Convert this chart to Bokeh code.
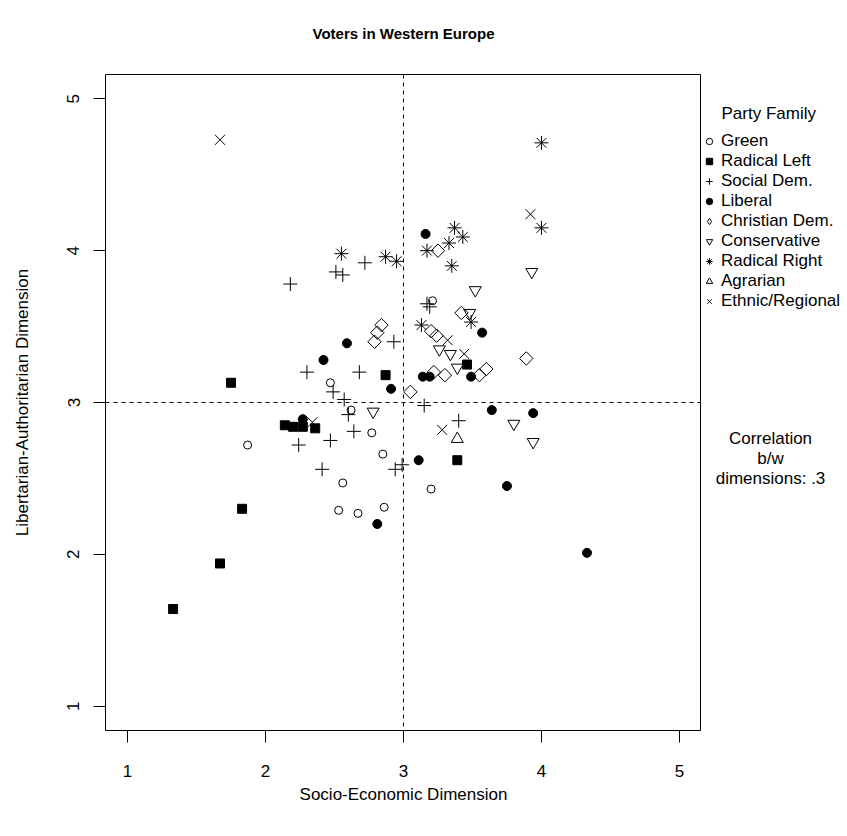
import numpy as np
from bokeh.plotting import figure
from bokeh.layouts import row, column
from bokeh.models import Span, Label, Legend, LegendItem, FixedTicker, Range1d
from bokeh.embed import file_html
from bokeh.resources import INLINE

FONT = "Liberation Sans"

# ---- data ----
x_ticks = [1, 2, 3, 4, 5]
y_ticks = [1, 2, 3, 4, 5]
x_mid = 3
y_mid = 3

green_x = [3.21, 2.47, 2.62, 2.77, 1.87, 2.85, 2.56, 2.53, 2.67, 2.86, 3.20]
green_y = [3.67, 3.13, 2.95, 2.80, 2.72, 2.66, 2.47, 2.29, 2.27, 2.31, 2.43]

radleft_x = [1.75, 2.87, 3.46, 2.14, 2.20, 2.27, 2.36, 1.83, 1.67, 1.33, 3.39]
radleft_y = [3.13, 3.18, 3.25, 2.85, 2.84, 2.84, 2.83, 2.30, 1.94, 1.64, 2.62]

socdem_x = [2.18, 2.51, 2.56, 2.72, 2.30, 2.68, 2.93, 2.49, 2.57, 3.17, 3.19, 3.15,
            2.60, 2.64, 2.24, 2.47, 2.41, 2.94, 2.99, 3.40]
socdem_y = [3.78, 3.86, 3.84, 3.92, 3.20, 3.20, 3.40, 3.07, 3.02, 3.65, 3.63, 2.98,
            2.92, 2.81, 2.72, 2.75, 2.56, 2.56, 2.59, 2.88]

liberal_x = [3.16, 2.59, 2.42, 2.91, 3.57, 3.14, 3.19, 3.49, 2.27, 2.81, 3.64, 3.94, 3.11, 3.75, 4.33]
liberal_y = [4.11, 3.39, 3.28, 3.09, 3.46, 3.17, 3.17, 3.17, 2.89, 2.20, 2.95, 2.93, 2.62, 2.45, 2.01]

chrdem_x = [3.25, 2.84, 2.81, 2.79, 3.42, 3.20, 3.24, 3.89, 3.22, 3.30, 3.55, 3.60, 3.05]
chrdem_y = [4.00, 3.51, 3.46, 3.40, 3.59, 3.47, 3.44, 3.29, 3.20, 3.18, 3.18, 3.22, 3.07]

cons_x = [3.93, 3.52, 3.48, 3.26, 3.34, 3.39, 2.78, 3.80, 3.94]
cons_y = [3.86, 3.74, 3.59, 3.35, 3.32, 3.23, 2.94, 2.86, 2.74]

radright_x = [4.00, 4.00, 3.37, 3.43, 3.33, 3.17, 3.35, 2.55, 2.87, 2.95, 3.13, 3.49]
radright_y = [4.71, 4.15, 4.15, 4.09, 4.05, 4.00, 3.90, 3.98, 3.96, 3.93, 3.51, 3.53]

agrarian_x = [3.39]
agrarian_y = [2.76]

ethnic_x = [1.67, 3.92, 3.32, 3.44, 3.28, 2.34]
ethnic_y = [4.73, 4.24, 3.41, 3.32, 2.82, 2.87]

families = ["Green", "Radical Left", "Social Dem.", "Liberal", "Christian Dem.",
            "Conservative", "Radical Right", "Agrarian", "Ethnic/Regional"]

title_text = "Voters in Western Europe"
x_label = "Socio-Economic Dimension"
y_label = "Libertarian-Authoritarian Dimension"
legend_title = "Party Family"
note_text = "Correlation\nb/w\ndimensions: .3"

# ---- layout constants ----
FRAME_W, FRAME_H = 596, 656
TITLE_H = 50
TOP, BOTTOM, LEFT = 74 - TITLE_H, 100, 105
SIDE_W = 140

# one style per party family: (marker, size, filled, angle, legend marker)
styles = [
    ("circle", 8, False, 0.0, "circle"),
    ("square", 9, True, 0.0, "square"),
    ("cross", 14, False, 0.0, "cross"),
    ("circle", 9, True, 0.0, "circle"),
    ("square", 9.5, False, np.pi / 4, "diamond"),
    ("inverted_triangle", 12, False, 0.0, "inverted_triangle"),
    ("asterisk", 14, False, 0.0, "asterisk"),
    ("triangle", 12, False, 0.0, "triangle"),
    ("x", 14, False, 0.0, "x"),
]
series = [(green_x, green_y), (radleft_x, radleft_y), (socdem_x, socdem_y),
          (liberal_x, liberal_y), (chrdem_x, chrdem_y), (cons_x, cons_y),
          (radright_x, radright_y), (agrarian_x, agrarian_y), (ethnic_x, ethnic_y)]

# ---- title strip ----
pt = figure(width=LEFT + FRAME_W + SIDE_W, height=TITLE_H, min_border=0,
            x_axis_location=None, y_axis_location=None,
            output_backend="svg", toolbar_location=None)
pt.outline_line_color = None
pt.xgrid.visible = False
pt.ygrid.visible = False
pt.add_layout(Label(x=LEFT + FRAME_W / 2, y=TITLE_H - 33, x_units="screen",
                    y_units="screen", text=title_text, text_font=FONT,
                    text_font_size="15px", text_font_style="bold", text_color="black",
                    text_align="center", text_baseline="middle"))

# ---- main figure ----
p = figure(frame_width=FRAME_W, frame_height=FRAME_H,
           min_border_left=LEFT, min_border_right=0,
           min_border_top=TOP, min_border_bottom=BOTTOM,
           x_range=Range1d(0.84, 5.16), y_range=Range1d(0.84, 5.16),
           output_backend="svg", toolbar_location=None,
           title=None, x_axis_label=x_label, y_axis_label=y_label)

p.xgrid.visible = False
p.ygrid.visible = False
p.outline_line_color = "black"
p.outline_line_width = 1
p.outline_line_alpha = 1.0
p.background_fill_color = "white"
p.border_fill_color = "white"

p.xaxis.ticker = FixedTicker(ticks=x_ticks)
p.yaxis.ticker = FixedTicker(ticks=y_ticks)
for ax in (p.xaxis, p.yaxis):
    ax.axis_line_color = None
    ax.major_tick_line_color = "black"
    ax.major_tick_out = 12
    ax.major_tick_in = 0
    ax.minor_tick_line_color = None
    ax.major_label_text_font = FONT
    ax.major_label_text_font_size = "17px"
    ax.major_label_text_color = "black"
    ax.axis_label_text_font = FONT
    ax.axis_label_text_font_size = "17px"
    ax.axis_label_text_font_style = "normal"
    ax.axis_label_text_color = "black"
p.yaxis.major_label_orientation = "vertical"
p.xaxis.major_label_standoff = 22
p.yaxis.major_label_standoff = 14
p.xaxis.axis_label_standoff = 5
p.yaxis.axis_label_standoff = 33

p.add_layout(Span(location=x_mid, dimension="height", line_color="black",
                  line_dash="4 4", line_width=1))
p.add_layout(Span(location=y_mid, dimension="width", line_color="black",
                  line_dash="4 4", line_width=1))

for (xs, ys), (mk, sz, filled, ang, _) in zip(series, styles):
    p.scatter(xs, ys, marker=mk, size=sz, angle=ang,
              fill_color="black" if filled else None,
              line_color="black", line_width=1)

# ---- side panel with the legend and note ----
p2 = figure(frame_width=SIDE_W, frame_height=FRAME_H,
            min_border_left=0, min_border_right=0,
            min_border_top=TOP, min_border_bottom=BOTTOM,
            x_range=Range1d(0, SIDE_W), y_range=Range1d(0, FRAME_H),
            x_axis_location=None, y_axis_location=None,
            output_backend="svg", toolbar_location=None)
p2.xgrid.visible = False
p2.ygrid.visible = False
p2.outline_line_color = None
p2.background_fill_color = "white"
p2.border_fill_color = "white"

items = []
for fam, (mk, sz, filled, ang, lmk) in zip(families, styles):
    # legend proxy: same style, no visible point (NaN position)
    r = p2.scatter([np.nan], [np.nan], marker=lmk, size=sz,
                   fill_color="black" if filled else None,
                   line_color="black", line_width=1)
    items.append(LegendItem(label=fam, renderers=[r]))

legend = Legend(items=items, location=(0, 419), padding=0, spacing=0, margin=0,
                glyph_width=16, glyph_height=20, label_height=20, label_standoff=4,
                label_text_font=FONT, label_text_font_size="17px",
                label_text_color="black", border_line_color=None,
                background_fill_alpha=0)
p2.add_layout(legend)

p2.add_layout(Label(x=20, y=617, x_units="screen", y_units="screen", text=legend_title,
                    text_font=FONT, text_font_size="17px", text_color="black",
                    text_align="left", text_baseline="middle"))
p2.add_layout(Label(x=69, y=272, x_units="screen", y_units="screen", text=note_text,
                    text_font=FONT, text_font_size="17px", text_color="black",
                    text_align="center", text_baseline="middle", text_line_height=1.05))

layout = column(pt, row(p, p2, spacing=0), spacing=0)
open("out.html", "w").write(file_html(layout, INLINE))
